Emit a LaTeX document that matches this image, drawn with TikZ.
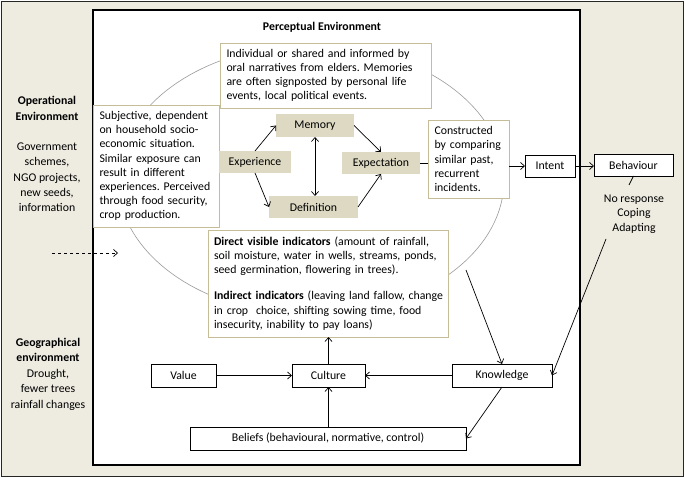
\documentclass[tikz,border=0pt]{standalone}
\usepackage{fontspec}
\setmainfont{Carlito}
\usetikzlibrary{arrows.meta}
\definecolor{bgbeige}{HTML}{EEECE1}
\definecolor{khaki}{HTML}{C4BD97}
\definecolor{khakifill}{HTML}{DDD9C3}
\definecolor{ellgray}{HTML}{9A9A9A}
\frenchspacing
\begin{document}
\begin{tikzpicture}[x=1pt,y=-1pt,
  font=\fontsize{11.8}{14.2}\selectfont,
  every node/.style={inner sep=0pt, outer sep=0pt},
  notebox/.style={draw=khaki, line width=0.9pt, fill=white, align=left, inner xsep=6.5pt, inner ysep=0pt},
  keybox/.style={fill=khakifill, minimum height=22pt},
  plainbox/.style={draw=black, line width=0.8pt, fill=white, minimum height=23pt},
  conn/.style={line width=0.7pt, -{Straight Barb[length=4pt,width=7pt]}},
  dconn/.style={line width=0.7pt, {Straight Barb[length=4pt,width=7pt]}-{Straight Barb[length=4pt,width=7pt]}},
  plainline/.style={line width=0.7pt},
  sidetext/.style={align=center},
]
\useasboundingbox (0,0) rectangle (685,478);
% frames
\draw[fill=bgbeige, draw=black!85, line width=1.6pt] (1.5,1.5) rectangle (683.5,476.5);
\draw[fill=white, draw=black, line width=1.8pt] (93,10) rectangle (580,465);
% perceptual ellipse
\draw[ellgray, line width=0.6pt] (311,180) ellipse [x radius=193pt, y radius=135pt];

% title
\node[font=\fontsize{11.8}{14.2}\selectfont\bfseries] (title) at (322,27) {Perceptual Environment};

% side labels
\node[sidetext, font=\fontsize{11.8}{16}\selectfont\bfseries] (oplabel) at (47,108.5) {Operational\\Environment};
\node[sidetext, font=\fontsize{11.8}{15.3}\selectfont] (optext) at (47,177.5) {Government\\schemes,\\NGO projects,\\new seeds,\\information};
\node[sidetext, font=\fontsize{11.8}{15.5}\selectfont] (geolabel) at (48,374) {\textbf{Geographical}\\\textbf{environment}\\Drought,\\fewer trees\\rainfall changes};

% note boxes
\node[notebox, text width=198pt, minimum height=65pt] (memnote) at (325.5,75.5)
  {Individual or shared and informed by\\oral narratives from elders. Memories\\are often signposted by personal life\\events, local political events.};
\node[notebox, text width=113pt, minimum height=122pt] (expnote) at (156,166)
  {\mbox{Subjective, dependent}\\\mbox{on household socio-}\\\mbox{economic situation.}\\\mbox{Similar exposure can}\\\mbox{result in different}\\\mbox{experiences. Perceived}\\\mbox{through food security,}\\\mbox{crop production.}};
\node[notebox, text width=68pt, minimum height=78pt] (connote) at (468.5,159)
  {\mbox{Constructed}\\\mbox{by comparing}\\\mbox{similar past,}\\\mbox{recurrent}\\\mbox{incidents.}};
\node[notebox, text width=228pt, inner xsep=6pt, minimum height=107pt] (ind) at (328,283.5)
  {\mbox{\textbf{Direct visible indicators} (amount of rainfall,}\\\mbox{soil moisture, water in wells, streams, ponds,}\\\mbox{seed germination, flowering in trees).}\\[12pt]\mbox{\textbf{Indirect indicators} (leaving land fallow, change}\\\mbox{in crop\ \ choice, shifting sowing time, food}\\\mbox{insecurity, inability to pay loans)}};

% key boxes
\node[keybox, minimum width=78pt, minimum height=23pt] (mem) at (315,125.5) {Memory};
\node[keybox, minimum width=72pt] (exp) at (255,162) {Experience};
\node[keybox, minimum width=78pt] (expc) at (381,163) {Expectation};
\node[keybox, minimum width=89pt] (def) at (313.5,207) {Definition};

% plain boxes
\node[plainbox, minimum width=50pt, minimum height=22pt] (int) at (550,166) {Intent};
\node[plainbox, minimum width=79pt, minimum height=22pt] (beh) at (633.5,165) {Behaviour};
\node[plainbox, minimum width=100pt] (know) at (502,375.5) {Knowledge};
\node[plainbox, minimum width=73pt] (cul) at (328.5,375.5) {Culture};
\node[plainbox, minimum width=65pt] (val) at (183.5,375.5) {Value};
\node[plainbox, minimum width=276pt] (bel) at (328,438.5) {Beliefs (behavioural, normative, control)};

% responses
\node[sidetext, font=\fontsize{11.8}{14.3}\selectfont] (resp) at (634,214) {No response\\Coping\\Adapting};

% coordinates for free ends
\coordinate (slashend) at (629,185);
\coordinate (adstart) at (606,239);
\coordinate (kstart) at (466,270);
\coordinate (dashstart) at (52,253);
\coordinate (dashend) at (118,253);

% connectors
\draw[conn] (exp.north) -- (mem.west);
\draw[conn] (exp.south) -- (def.west);
\draw[dconn] (mem.south) -- (mem.south |- def.north);
\draw[conn] (mem.east) -- (expc.north);
\draw[conn] (def.east) -- (expc.south);
\draw[plainline] (expc.east) -- (expc.east -| connote.west);
\draw[conn] (connote.east |- int.west) -- (int.west);
\draw[conn] (int.east) -- (beh.west |- int.east);
\draw[plainline] (beh.south) -- (slashend);
\draw[conn] (adstart) -- (know.east);
\draw[conn] (kstart) -- (know.north);
\draw[conn] (know.west) -- (cul.east);
\draw[conn] (val.east) -- (cul.west);
\draw[conn] (bel.north -| cul.south) -- (cul.south);
\draw[conn] (cul.north) -- (cul.north |- ind.south);
\draw[conn] (know.south) -- (bel.east);
\draw[conn, dashed] (dashstart) -- (dashend);
\end{tikzpicture}
\end{document}
